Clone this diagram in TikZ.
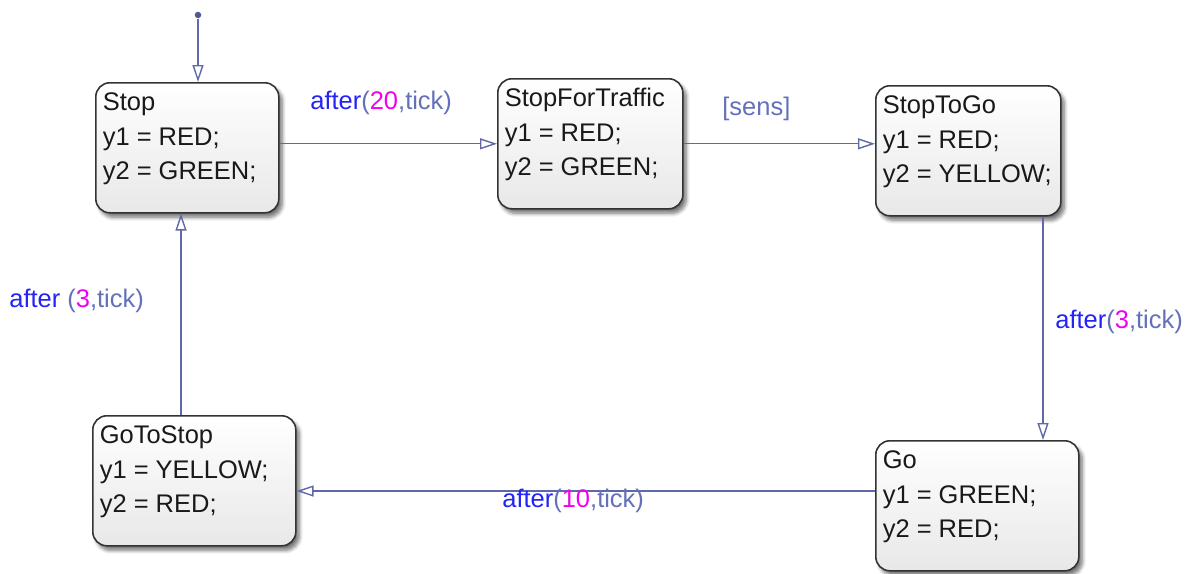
\documentclass[tikz,border=0pt]{standalone}
\usepackage{fontspec}
\setmainfont{Liberation Sans}
\usetikzlibrary{arrows.meta,shadows.blur}
\definecolor{transcol}{RGB}{95,105,170}
\definecolor{kwblue}{RGB}{35,35,245}
\definecolor{argcol}{RGB}{100,112,185}
\definecolor{numcol}{RGB}{240,0,240}
\tikzset{
  chartstate/.style={draw=black!80, line width=0.9pt, rounded corners=0.28cm,
    inner xsep=0.14cm, inner ysep=0pt, anchor=north west,
    top color=white, bottom color=black!9,
    blur shadow={shadow xshift=0.07cm, shadow yshift=-0.09cm, shadow blur steps=6, shadow opacity=55}},
  trans/.style={draw=transcol, line width=0.8pt, -{Triangle[open,length=0.34cm,width=0.22cm]}},
  lbl/.style={anchor=base west, inner sep=0pt, font=\fontsize{14.5}{18}\selectfont}
}
\newcommand{\stext}[2]{\parbox[b][2.6cm][t]{#1}{\fontsize{14.5}{19.5}\selectfont\color{black!90}\rule{0pt}{0.56cm}#2}}
\newcommand{\aftlbl}[2]{\textcolor{kwblue}{after}\textcolor{argcol}{#1(}\textcolor{numcol}{#2}\textcolor{argcol}{,tick)}}
\begin{document}
\begin{tikzpicture}
  \useasboundingbox (0,0) rectangle (23.94,-11.46);
  % states
  \node[chartstate] (Stop) at (1.9,-1.64) {\stext{3.38cm}{Stop\\y1 = RED;\\y2 = GREEN;}};
  \node[chartstate] (SFT) at (9.94,-1.56) {\stext{3.42cm}{StopForTraffic\\y1 = RED;\\y2 = GREEN;}};
  \node[chartstate] (STG) at (17.5,-1.7) {\stext{3.42cm}{StopToGo\\y1 = RED;\\y2 = YELLOW;}};
  \node[chartstate] (Go) at (17.5,-8.8) {\stext{3.78cm}{Go\\y1 = GREEN;\\y2 = RED;}};
  \node[chartstate] (GTS) at (1.84,-8.3) {\stext{3.78cm}{GoToStop\\y1 = YELLOW;\\y2 = RED;}};
  % default transition
  \node[circle, fill=transcol!85!black, inner sep=0pt, minimum size=0.13cm] (init) at (3.96,-0.3) {};
  \draw[trans] (init) -- (init |- Stop.north);
  % transitions
  \draw[trans] (Stop.east |- SFT.west) -- (SFT.west);
  \draw[trans] (SFT.east) -- (STG.west |- SFT.east);
  \draw[trans] (STG.south -| 20.86,0) -- (Go.north -| 20.86,0);
  \draw[trans] (Go.west |- 0,-9.82) -- (GTS.east |- 0,-9.82);
  \draw[trans] (GTS.north -| 3.62,0) -- (Stop.south -| 3.62,0);
  % labels
  \node[lbl] (l1) at (6.2,-2.18) {\aftlbl{}{20}};
  \node[lbl] (l2) at (14.44,-2.3) {\textcolor{argcol}{[sens]}};
  \node[lbl] (l3) at (21.1,-6.56) {\aftlbl{}{3}};
  \node[lbl] (l4) at (10.04,-10.14) {\aftlbl{}{10}};
  \node[lbl] (l5) at (0.18,-6.14) {\aftlbl{\ }{3}};
\end{tikzpicture}
\end{document}
